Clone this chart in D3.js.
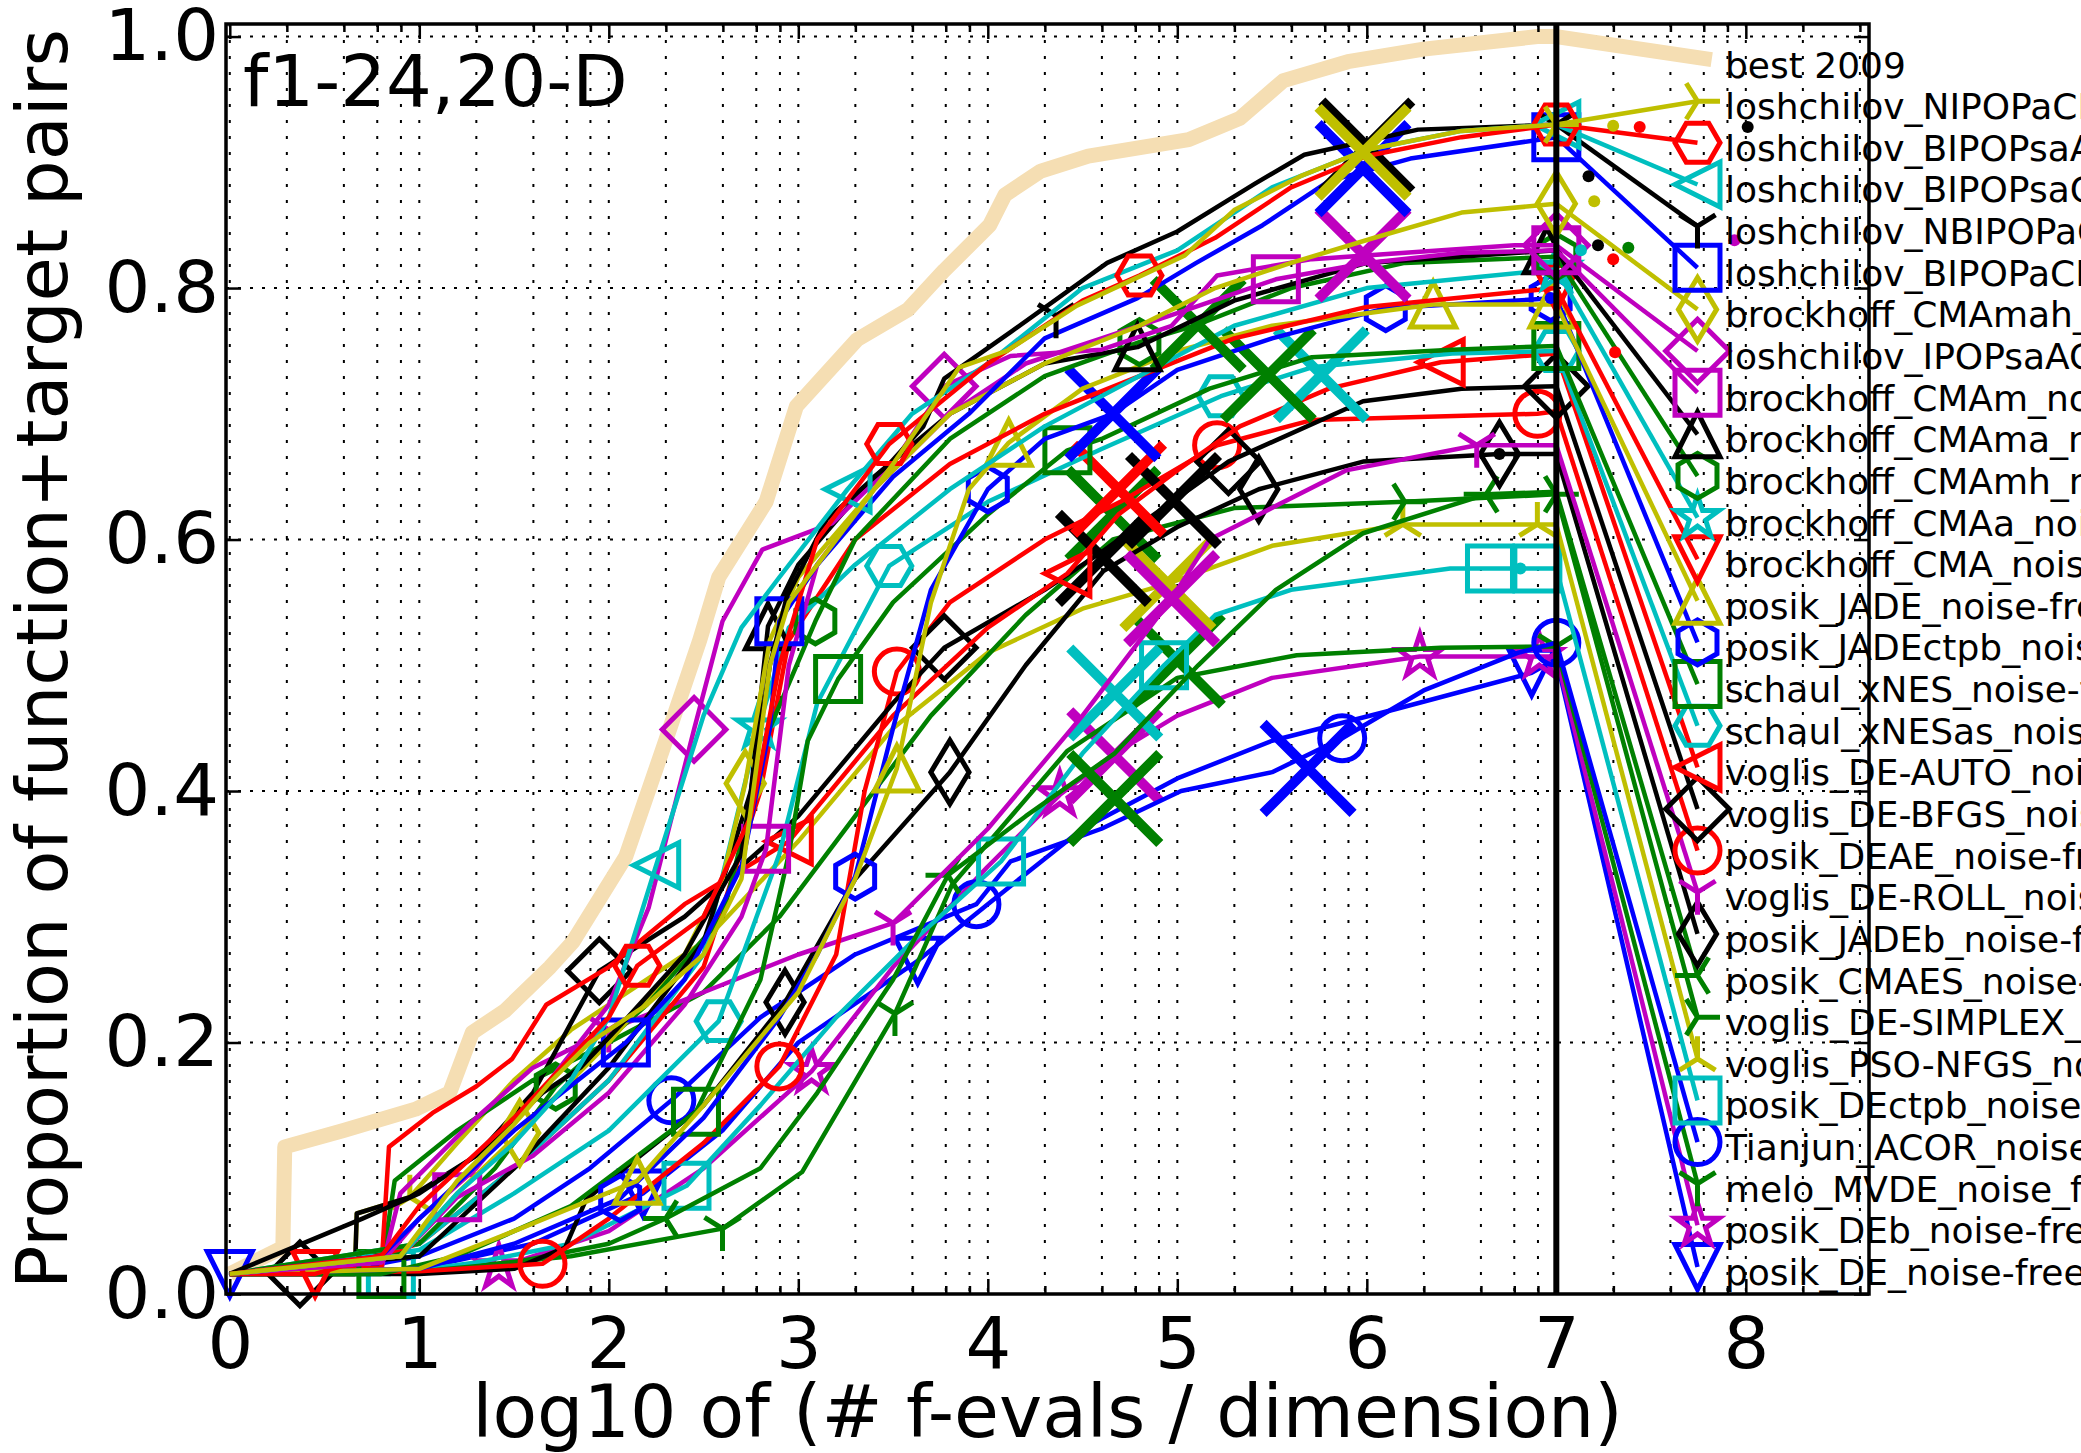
<!DOCTYPE html>
<html>
<head>
<meta charset="utf-8">
<script src="https://cdn.jsdelivr.net/npm/d3@7"></script>
<style>
  body { margin: 0; background: #fff; overflow: hidden; }
  svg { display: block; font-family: "DejaVu Sans", sans-serif; }
</style>
</head>
<body>
<div id="wrapper"></div>
<script>
// ---- data (x = log10 evals/dim, y = proportion) ----
const algNames = [
  "best 2009",
  "loshchilov_NIPOPaCMA_noise-free",
  "loshchilov_BIPOPsaACM_noise-free",
  "loshchilov_BIPOPsaCMA_noise-free",
  "loshchilov_NBIPOPaCMA_noise-free",
  "loshchilov_BIPOPaCMA_noise-free",
  "brockhoff_CMAmah_noise-free",
  "loshchilov_IPOPsaACM_noise-free",
  "brockhoff_CMAm_noise-free",
  "brockhoff_CMAma_noise-free",
  "brockhoff_CMAmh_noise-free",
  "brockhoff_CMAa_noise-free",
  "brockhoff_CMA_noise-free",
  "posik_JADE_noise-free",
  "posik_JADEctpb_noise-free",
  "schaul_xNES_noise-free",
  "schaul_xNESas_noise-free",
  "voglis_DE-AUTO_noise-free",
  "voglis_DE-BFGS_noise-free",
  "posik_DEAE_noise-free",
  "voglis_DE-ROLL_noise-free",
  "posik_JADEb_noise-free",
  "posik_CMAES_noise-free",
  "voglis_DE-SIMPLEX_noise-free",
  "voglis_PSO-NFGS_noise-free",
  "posik_DEctpb_noise-free",
  "Tianjun_ACOR_noise-free",
  "melo_MVDE_noise_free",
  "posik_DEb_noise-free",
  "posik_DE_noise-free"
];

const algColors = ["w", "y", "r", "c", "k", "b", "y", "m", "m", "k", "g", "c", "r", "y", "b",
  "g", "c", "r", "k", "r", "m", "k", "g", "g", "y", "c", "b", "g", "m", "b"];

const algMarkers = [null, "triRight", "hexagonH", "triangleLeft", "triDown", "square", "thinDiamond",
  "diamond", "square", "triangleUp", "hexagon", "star", "triangleDown", "triangleUp", "hexagon",
  "square", "hexagonH", "triangleLeft", "diamond", "circle", "triDown", "thinDiamond", "triLeft",
  "triRight", "triUp", "square", "circle", "triDown", "star", "triangleDown"];

const xTicks = [0, 1, 2, 3, 4, 5, 6, 7, 8];
const yTicks = [0, 0.2, 0.4, 0.6, 0.8, 1.0];
const budgetLine = 7;

const best2009 = [[0,0.016],[0.28,0.037],[0.29,0.117],[0.6,0.13],[0.98,0.147],[1.16,0.16],[1.28,0.208],
  [1.45,0.225],[1.69,0.26],[1.81,0.28],[2.09,0.348],[2.3,0.44],[2.48,0.52],[2.58,0.57],[2.83,0.63],
  [2.99,0.706],[3.31,0.759],[3.58,0.783],[3.77,0.814],[4.01,0.85],[4.09,0.874],[4.28,0.893],[4.53,0.905],
  [5.06,0.918],[5.33,0.935],[5.56,0.965],[5.9,0.98],[6.3,0.99],[6.9,1.0],[7,1.0]];
const nipopac = [[0,0.016],[0.9,0.03],[1.2,0.09],[1.5,0.135],[1.7,0.17],[1.9,0.2],[2.2,0.23],[2.5,0.27],
  [2.7,0.33],[2.78,0.42],[2.85,0.5],[2.95,0.55],[3.2,0.6],[3.5,0.66],[3.85,0.737],[4.1,0.75],[4.47,0.786],
  [5.04,0.826],[5.3,0.862],[5.65,0.889],[6.0,0.91],[6.5,0.925],[7,0.93]];
const bipopsaa = [[0,0.016],[0.8,0.03],[1.0,0.07],[1.5,0.14],[2.0,0.22],[2.15,0.261],[2.5,0.3],[2.75,0.38],
  [2.9,0.5],[3.1,0.6],[3.48,0.676],[4.0,0.74],[4.5,0.79],[4.8,0.81],[5.2,0.84],[5.6,0.88],[6.0,0.905],
  [6.5,0.92],[7,0.93]];
const bipopsac = [[0,0.016],[0.9,0.03],[1.2,0.08],[1.5,0.12],[1.8,0.17],[2.0,0.22],[2.25,0.341],[2.5,0.46],
  [2.7,0.53],[2.9,0.57],[3.26,0.64],[3.6,0.7],[4.0,0.74],[4.5,0.8],[5.0,0.83],[5.5,0.88],[6.0,0.91],
  [6.5,0.925],[7,0.93]];
const nbipopa = [[0,0.016],[0.7,0.06],[1.0,0.08],[1.3,0.11],[1.65,0.16],[1.85,0.18],[2.1,0.22],[2.4,0.27],
  [2.7,0.35],[2.85,0.5],[2.94,0.555],[3.15,0.616],[3.48,0.66],[3.66,0.69],[3.77,0.728],[4.12,0.765],
  [4.63,0.82],[5.0,0.845],[5.41,0.883],[5.67,0.906],[6.27,0.926],[7,0.93]];
const bipopac = [[0,0.016],[0.8,0.03],[1.0,0.06],[1.5,0.13],[2.09,0.2],[2.4,0.25],[2.7,0.34],[2.85,0.45],
  [2.9,0.535],[3.1,0.58],[3.5,0.65],[3.9,0.7],[4.3,0.76],[4.79,0.792],[5.1,0.82],[5.45,0.85],[5.8,0.885],
  [6.23,0.903],[7,0.92]];
const cmamah = [[0,0.016],[0.9,0.03],[1.2,0.08],[1.53,0.128],[2.0,0.2],[2.4,0.27],[2.6,0.33],[2.72,0.406],
  [2.85,0.52],[3.0,0.57],[3.4,0.64],[3.8,0.7],[4.3,0.74],[4.8,0.77],[5.2,0.8],[5.6,0.82],[6.04,0.84],
  [6.5,0.86],[7,0.867]];
const ipopsaac = [[0,0.016],[0.8,0.025],[1.0,0.06],[1.3,0.1],[1.69,0.17],[2.0,0.23],[2.21,0.307],[2.45,0.449],
  [2.6,0.535],[2.81,0.592],[3.18,0.613],[3.5,0.66],[3.77,0.722],[4.12,0.746],[4.6,0.751],[4.97,0.77],
  [5.21,0.81],[5.71,0.823],[6.78,0.834],[7,0.834]];
const cmam = [[0,0.016],[0.9,0.03],[1.2,0.077],[1.6,0.11],[2.0,0.16],[2.4,0.23],[2.7,0.3],[2.83,0.354],
  [2.95,0.5],[3.1,0.58],[3.4,0.64],[3.8,0.7],[4.2,0.74],[4.6,0.76],[5.0,0.78],[5.52,0.807],[6.0,0.82],
  [6.5,0.828],[7,0.83]];
const cmama = [[0,0.016],[1.0,0.03],[1.5,0.1],[2.0,0.18],[2.5,0.28],[2.75,0.4],[2.84,0.531],[3.0,0.58],
  [3.4,0.65],[3.8,0.7],[4.3,0.74],[4.79,0.753],[5.3,0.79],[6.0,0.82],[7,0.83]];
const cmamh = [[0,0.016],[1.0,0.04],[1.4,0.1],[1.72,0.165],[2.2,0.23],[2.6,0.3],[2.85,0.45],[3.09,0.535],
  [3.3,0.6],[3.8,0.68],[4.3,0.73],[4.8,0.757],[5.11,0.771],[5.6,0.8],[6.2,0.82],[7,0.825]];
const cmaa = [[0,0.016],[1.0,0.04],[1.5,0.1],[2.0,0.17],[2.5,0.27],[2.79,0.451],[2.95,0.53],[3.3,0.58],
  [3.8,0.64],[4.3,0.69],[4.8,0.73],[5.3,0.77],[6.0,0.8],[7,0.815]];
const cma = [[0,0.016],[0.45,0.016],[1.0,0.04],[1.5,0.1],[2.0,0.17],[2.5,0.26],[2.8,0.4],[2.95,0.52],
  [3.3,0.6],[3.8,0.66],[4.3,0.7],[4.8,0.73],[5.3,0.76],[6.0,0.785],[7,0.8]];
const jade = [[0,0.016],[1.0,0.02],[1.5,0.05],[2.15,0.09],[2.5,0.15],[3.0,0.24],[3.3,0.33],[3.52,0.418],
  [3.7,0.55],[3.9,0.64],[4.11,0.677],[4.5,0.72],[5.0,0.75],[5.5,0.77],[6.35,0.787],[7,0.787]];
const jadectpb = [[0,0.016],[1.0,0.02],[1.5,0.04],[2.06,0.076],[2.5,0.14],[2.9,0.22],[3.1,0.27],[3.3,0.332],
  [3.5,0.45],[3.7,0.56],[4.0,0.64],[4.3,0.68],[4.66,0.7],[5.0,0.735],[5.5,0.76],[6.1,0.784],[7,0.792]];
const xnes = [[0,0.016],[0.8,0.016],[1.2,0.03],[1.8,0.07],[2.46,0.145],[2.8,0.25],[2.95,0.35],[3.05,0.44],
  [3.21,0.489],[3.5,0.55],[4.0,0.62],[4.42,0.671],[4.6,0.68],[5.17,0.72],[5.71,0.745],[6.45,0.751],[7,0.754]];
const xnesas = [[0,0.016],[1.0,0.035],[1.5,0.08],[2.0,0.13],[2.58,0.217],[2.9,0.35],[3.1,0.47],[3.48,0.579],
  [4.0,0.63],[4.6,0.672],[5.23,0.714],[5.71,0.737],[6.45,0.748],[7,0.75]];
const deAuto = [[0,0.016],[0.8,0.021],[0.84,0.117],[1.07,0.144],[1.3,0.165],[1.49,0.187],[1.67,0.23],
  [2.0,0.26],[2.4,0.31],[2.95,0.36],[3.5,0.46],[4.0,0.53],[4.42,0.573],[4.69,0.62],[5.0,0.655],[5.33,0.69],
  [5.8,0.72],[6.39,0.741],[7,0.748]];
const deBfgs = [[0,0.016],[0.66,0.016],[0.67,0.064],[0.95,0.077],[1.3,0.11],[1.6,0.16],[1.95,0.257],
  [2.4,0.3],[3.0,0.38],[3.5,0.47],[3.77,0.514],[4.3,0.56],[4.6,0.59],[4.98,0.631],[5.27,0.662],[5.98,0.71],
  [6.5,0.72],[7,0.722]];
const deae = [[0,0.016],[1.0,0.018],[1.65,0.024],[2.0,0.06],[2.5,0.12],[2.9,0.181],[3.2,0.27],[3.35,0.4],
  [3.52,0.495],[3.8,0.55],[4.3,0.6],[4.7,0.63],[5.21,0.675],[5.71,0.695],[6.9,0.7],[7,0.702]];
const deRoll = [[0,0.016],[0.8,0.02],[0.9,0.08],[1.3,0.14],[1.6,0.18],[2.0,0.21],[2.5,0.24],[3.0,0.27],
  [3.5,0.295],[4.0,0.37],[4.5,0.46],[4.97,0.553],[5.17,0.6],[5.89,0.655],[6.58,0.675],[7,0.675]];
const jadeb = [[0,0.016],[1.0,0.016],[1.5,0.02],[1.77,0.037],[1.88,0.075],[2.0,0.09],[2.5,0.15],[2.93,0.232],
  [3.3,0.33],[3.8,0.415],[4.2,0.5],[4.61,0.575],[5.0,0.61],[5.43,0.64],[5.98,0.662],[6.7,0.668],[7,0.668]];
const cmaes = [[0,0.016],[1.0,0.018],[1.5,0.025],[2.0,0.04],[2.3,0.06],[2.8,0.1],[3.1,0.16],[3.5,0.25],
  [3.79,0.333],[4.2,0.38],[4.67,0.43],[5.11,0.5],[5.52,0.56],[5.98,0.605],[6.63,0.636],[7,0.638]];
const deSimplex = [[0,0.016],[0.8,0.02],[0.87,0.09],[1.2,0.13],[1.6,0.17],[2.0,0.2],[2.5,0.24],[2.9,0.3],
  [3.3,0.38],[3.7,0.46],[4.2,0.54],[4.66,0.6],[5.3,0.625],[6.2,0.63],[7,0.636]];
const psoNfgs = [[0,0.016],[0.66,0.016],[0.67,0.064],[0.95,0.077],[1.2,0.12],[1.5,0.17],[1.8,0.21],[2.1,0.24],
  [2.5,0.28],[3.0,0.36],[3.5,0.45],[4.0,0.51],[4.5,0.545],[4.95,0.565],[5.5,0.595],[6.19,0.612],[7,0.612]];
const dectpb = [[0,0.016],[0.85,0.016],[1.3,0.025],[1.8,0.04],[2.41,0.086],[2.8,0.15],[3.2,0.22],[3.6,0.28],
  [4.07,0.344],[4.5,0.43],[4.93,0.5],[5.2,0.54],[5.6,0.56],[6.44,0.577],[7,0.577]];
const acor = [[0,0.016],[0.5,0.016],[1.0,0.03],[1.5,0.06],[1.9,0.1],[2.33,0.154],[2.8,0.22],[3.3,0.27],
  [3.94,0.31],[4.12,0.344],[4.6,0.37],[5.02,0.4],[5.5,0.415],[5.87,0.442],[6.3,0.48],[6.8,0.51],[7,0.518]];
const mvde = [[0,0.016],[1.0,0.018],[1.8,0.03],[2.6,0.052],[3.02,0.097],[3.51,0.223],[3.81,0.325],
  [4.42,0.432],[5.0,0.49],[5.63,0.508],[6.39,0.514],[7,0.515]];
const deb = [[0,0.016],[1.0,0.018],[1.42,0.021],[2.0,0.05],[2.5,0.1],[3.07,0.177],[3.5,0.26],[4.0,0.34],
  [4.38,0.397],[4.67,0.43],[5.0,0.46],[5.5,0.49],[6.28,0.507],[7,0.507]];
const de = [[0,0.016],[1.0,0.02],[1.6,0.04],[2.18,0.08],[2.6,0.13],[3.0,0.2],[3.63,0.265],[4.0,0.31],
  [4.5,0.37],[5.0,0.41],[5.5,0.44],[6.15,0.465],[6.87,0.494],[7,0.505]];

// marker positions along each curve
const nipopacMarks = [[7,0.93]];
const bipopsaaMarks = [[2.15,0.261],[3.48,0.676],[4.8,0.81],[7,0.93]];
const bipopsacMarks = [[2.25,0.341],[3.26,0.64],[7,0.93]];
const nbipopaMarks = [[4.36,0.778],[7,0.93]];
const bipopacMarks = [[2.09,0.2],[2.9,0.535],[7,0.92]];
const cmamahMarks = [[1.53,0.128],[2.72,0.406],[7,0.867]];
const ipopsaacMarks = [[2.45,0.449],[3.77,0.722],[7,0.834]];
const cmamMarks = [[1.2,0.077],[2.83,0.354],[5.52,0.807],[7,0.83]];
const cmamaMarks = [[2.84,0.531],[4.79,0.753],[6.95,0.83]];
const cmamhMarks = [[1.72,0.165],[3.09,0.535],[4.8,0.757],[7,0.825]];
const cmaaMarks = [[2.79,0.451],[7,0.815]];
const cmaMarks = [[0.45,0.016],[7,0.8]];
const jadeMarks = [[2.15,0.09],[3.52,0.418],[4.11,0.677],[6.35,0.787],[6.98,0.787]];
const jadectpbMarks = [[2.06,0.076],[3.3,0.332],[4.0,0.64],[6.1,0.784],[6.97,0.792]];
const xnesMarks = [[0.8,0.016],[2.46,0.145],[3.21,0.489],[4.42,0.671],[7,0.754]];
const xnesasMarks = [[2.58,0.217],[3.48,0.579],[5.23,0.714],[7,0.75]];
const deAutoMarks = [[2.95,0.36],[4.42,0.573],[6.39,0.741]];
const deBfgsMarks = [[0.37,0.016],[1.95,0.257],[3.77,0.514],[5.27,0.662],[7,0.722]];
const deaeMarks = [[1.65,0.024],[2.9,0.181],[3.52,0.495],[5.21,0.675],[6.9,0.7]];
const deRollMarks = [[2.0,0.21],[3.5,0.295],[6.58,0.675]];
const jadebMarks = [[2.93,0.232],[3.8,0.415],[5.43,0.64],[6.7,0.668]];
const cmaesMarks = [[2.3,0.06],[3.79,0.333],[6.63,0.636]];
const deSimplexMarks = [[6.2,0.63],[7,0.636]];
const psoNfgsMarks = [[0.95,0.077],[6.19,0.612],[6.9,0.612]];
const dectpbMarks = [[0.85,0.016],[2.41,0.086],[4.07,0.344],[4.93,0.5],[6.65,0.577],[6.9,0.577]];
const acorMarks = [[2.33,0.154],[3.94,0.31],[5.87,0.442],[7,0.518]];
const mvdeMarks = [[2.6,0.052],[3.51,0.223],[7,0.515]];
const debMarks = [[1.42,0.021],[3.07,0.177],[4.38,0.397],[6.28,0.507],[6.91,0.507]];
const deMarks = [[0,0.016],[2.18,0.08],[3.63,0.265],[6.87,0.494]];

// big "x" marks (median budget) per algorithm, null where not visible
const medianCross = [null, [5.98,0.908], null, null, [6.0,0.913], [5.98,0.895], null, [5.98,0.827], null,
  null, [5.11,0.771], null, null, null, [4.66,0.7], [5.48,0.731], [5.76,0.731], [4.69,0.64], [4.98,0.631],
  null, [4.97,0.553], [4.61,0.585], [4.67,0.394], [4.66,0.62], [4.95,0.565], [4.67,0.478], [5.69,0.418],
  [5.0,0.504], [4.67,0.428], null];

// small dots after the budget line: [x, y, algorithm index]
const tailDots = [[7.3,0.929,1],[7.44,0.928,2],[8.01,0.928,4],[7.17,0.889,4],[7.2,0.869,6],[7.94,0.838,7],
  [7.22,0.834,9],[7.38,0.832,10],[7.3,0.823,12],[7.13,0.83,11],[7.31,0.749,17],[6.97,0.792,14],
  [6.81,0.577,25],[6.7,0.668,21]];

const algCurves = [best2009, nipopac, bipopsaa, bipopsac, nbipopa, bipopac, cmamah, ipopsaac, cmam, cmama,
  cmamh, cmaa, cma, jade, jadectpb, xnes, xnesas, deAuto, deBfgs, deae, deRoll, jadeb, cmaes, deSimplex,
  psoNfgs, dectpb, acor, mvde, deb, de];
const algMarks = [[], nipopacMarks, bipopsaaMarks, bipopsacMarks, nbipopaMarks, bipopacMarks, cmamahMarks,
  ipopsaacMarks, cmamMarks, cmamaMarks, cmamhMarks, cmaaMarks, cmaMarks, jadeMarks, jadectpbMarks, xnesMarks,
  xnesasMarks, deAutoMarks, deBfgsMarks, deaeMarks, deRollMarks, jadebMarks, cmaesMarks, deSimplexMarks,
  psoNfgsMarks, dectpbMarks, acorMarks, mvdeMarks, debMarks, deMarks];

function drawChart() {
  //* Step 1. Access data
  const colorCodes = {
    b: "#0000ff", g: "#008000", r: "#ff0000", c: "#00bfbf",
    m: "#bf00bf", y: "#bfbf00", k: "#000000", w: "#f5deb3",
  };
  const colorOf = (i) => colorCodes[algColors[i]];

  //* Step 2. Create chart dimensions
  let dimensions = {
    width: 2081,
    height: 1453,
    margin: { top: 24, right: 212, bottom: 159, left: 226 },
    legendTop: 0.9817,
    legendStep: 0.03311,
    legendMarkerX: 7.745,
    legendTextX: 7.89,
    markerSize: 45,
    crossSize: 90,
    lineWidth: 4.5,
  };
  dimensions.boundedWidth =
    dimensions.width - dimensions.margin.left - dimensions.margin.right;
  dimensions.boundedHeight =
    dimensions.height - dimensions.margin.top - dimensions.margin.bottom;
  const legendY = (i) => dimensions.legendTop - i * dimensions.legendStep;

  //* Step 3. Draw canvas
  const wrapper = d3
    .select("#wrapper")
    .append("svg")
    .attr("width", dimensions.width)
    .attr("height", dimensions.height);

  wrapper.append("rect")
    .attr("width", dimensions.width)
    .attr("height", dimensions.height)
    .attr("fill", "#fff");

  const bounds = wrapper
    .append("g")
    .attr("transform", `translate(${dimensions.margin.left},${dimensions.margin.top})`);

  //* Step 4. Create scales
  const xScale = d3.scaleLinear()
    .domain([-0.02, 8.65])
    .range([0, dimensions.boundedWidth]);

  const yScale = d3.scaleLinear()
    .domain([0, 1.01])
    .range([dimensions.boundedHeight, 0]);

  const minorTicks = [];
  xTicks.forEach((k) => {
    [2, 4, 6, 8].forEach((m) => {
      const v = k + Math.log10(m);
      if (v < xScale.domain()[1]) minorTicks.push(v);
    });
  });

  // grid
  const grid = bounds.append("g");
  grid.selectAll(".vgrid")
    .data(xTicks.concat(minorTicks))
    .join("line")
    .attr("x1", (d) => xScale(d))
    .attr("x2", (d) => xScale(d))
    .attr("y1", 0)
    .attr("y2", dimensions.boundedHeight)
    .attr("stroke", "#000")
    .attr("stroke-width", 2)
    .attr("stroke-dasharray", "3,13");
  grid.selectAll(".hgrid")
    .data(yTicks.filter((d) => d > 0))
    .join("line")
    .attr("x1", 0)
    .attr("x2", dimensions.boundedWidth)
    .attr("y1", (d) => yScale(d))
    .attr("y2", (d) => yScale(d))
    .attr("stroke", "#000")
    .attr("stroke-width", 2)
    .attr("stroke-dasharray", "3,9");

  //* Step 5. Draw data
  const lineGenerator = d3.line()
    .x((d) => xScale(d[0]))
    .y((d) => yScale(d[1]));

  const poly = (pts) => "M" + pts.map((p) => p.join(",")).join("L") + "Z";
  const spokes = (pts) => pts.map((p) => `M0,0L${p[0]},${p[1]}`).join("");
  const regular = (n, r, start) =>
    d3.range(n).map((k) => {
      const a = start + (k * 2 * Math.PI) / n;
      return [r * Math.cos(a), -r * Math.sin(a)];
    });

  function markerPath(type, s) {
    const h = s / 2;
    switch (type) {
      case "circle":
        return `M${h},0A${h},${h} 0 1,1 ${-h},0A${h},${h} 0 1,1 ${h},0Z`;
      case "square":
        return poly([[-h, -h], [h, -h], [h, h], [-h, h]]);
      case "diamond": {
        const a = s * 0.7071;
        return poly([[0, -a], [a, 0], [0, a], [-a, 0]]);
      }
      case "thinDiamond": {
        const a = s * 0.7071;
        return poly([[0, -a], [a * 0.6, 0], [0, a], [-a * 0.6, 0]]);
      }
      case "triangleUp":
        return poly([[0, -h], [h, h], [-h, h]]);
      case "triangleDown":
        return poly([[0, h], [h, -h], [-h, -h]]);
      case "triangleLeft":
        return poly([[-h, 0], [h, -h], [h, h]]);
      case "hexagon":
        return poly(regular(6, h, Math.PI / 2));
      case "hexagonH":
        return poly(regular(6, h, 0));
      case "star": {
        const outer = regular(5, h, Math.PI / 2);
        const inner = regular(5, h * 0.382, Math.PI / 2 + Math.PI / 5);
        return poly(outer.flatMap((p, k) => [p, inner[k]]));
      }
      case "triDown":
        return spokes([[0, h], [0.8 * h, -0.5 * h], [-0.8 * h, -0.5 * h]]);
      case "triUp":
        return spokes([[0, -h], [0.8 * h, 0.5 * h], [-0.8 * h, 0.5 * h]]);
      case "triLeft":
        return spokes([[-h, 0], [0.5 * h, -0.8 * h], [0.5 * h, 0.8 * h]]);
      case "triRight":
        return spokes([[h, 0], [-0.5 * h, -0.8 * h], [-0.5 * h, 0.8 * h]]);
      case "cross":
        return `M${-h},${-h}L${h},${h}M${-h},${h}L${h},${-h}`;
      default:
        return "";
    }
  }

  // best 2009 underneath everything
  bounds.append("path")
    .datum(best2009.concat([[7.82, legendY(0)]]))
    .attr("d", lineGenerator)
    .attr("fill", "none")
    .attr("stroke", colorOf(0))
    .attr("stroke-width", 15)
    .attr("stroke-linejoin", "round");

  const drawOrder = d3.range(algNames.length - 1, 0, -1);
  drawOrder.forEach((i) => {
    const g = bounds.append("g").attr("class", "algorithm");
    const curve = algCurves[i];
    const last = curve[curve.length - 1];
    const color = colorOf(i);

    g.append("path")
      .datum(curve)
      .attr("d", lineGenerator)
      .attr("fill", "none")
      .attr("stroke", color)
      .attr("stroke-width", dimensions.lineWidth)
      .attr("stroke-linejoin", "round");

    g.append("path")
      .datum([last, [dimensions.legendMarkerX, legendY(i)]])
      .attr("d", lineGenerator)
      .attr("fill", "none")
      .attr("stroke", color)
      .attr("stroke-width", dimensions.lineWidth);

    g.selectAll(".mark")
      .data(algMarks[i].concat([[dimensions.legendMarkerX, legendY(i)]]))
      .join("path")
      .attr("class", "mark")
      .attr("d", markerPath(algMarkers[i], dimensions.markerSize))
      .attr("transform", (d) => `translate(${xScale(d[0])},${yScale(d[1])})`)
      .attr("fill", "none")
      .attr("stroke", color)
      .attr("stroke-width", 5);

    if (medianCross[i]) {
      g.append("path")
        .attr("d", markerPath("cross", dimensions.crossSize))
        .attr("transform", `translate(${xScale(medianCross[i][0])},${yScale(medianCross[i][1])})`)
        .attr("fill", "none")
        .attr("stroke", color)
        .attr("stroke-width", 10);
    }
  });

  bounds.append("g")
    .selectAll("circle")
    .data(tailDots)
    .join("circle")
    .attr("cx", (d) => xScale(d[0]))
    .attr("cy", (d) => yScale(d[1]))
    .attr("r", 6)
    .attr("fill", (d) => colorOf(d[2]));

  // budget line at x = 7
  bounds.append("line")
    .attr("x1", xScale(budgetLine))
    .attr("x2", xScale(budgetLine))
    .attr("y1", 0)
    .attr("y2", dimensions.boundedHeight)
    .attr("stroke", "#000")
    .attr("stroke-width", 6);

  // legend texts (the figure is cropped on the right, as in the original)
  bounds.append("g")
    .selectAll("text")
    .data(algNames)
    .join("text")
    .attr("x", xScale(dimensions.legendTextX))
    .attr("y", (d, i) => yScale(legendY(i)) + 18)
    .attr("font-size", 36)
    .attr("fill", "#000")
    .text((d) => d);

  //* Step 6. Draw peripherals
  const styleAxis = (g) => {
    g.select(".domain").remove();
    g.selectAll(".tick line").attr("stroke", "#000").attr("stroke-width", 2.5);
    g.selectAll(".tick text")
      .attr("fill", "#000")
      .attr("font-size", 72)
      .attr("font-family", "DejaVu Sans, sans-serif");
  };
  const ticksOnly = (g) => {
    styleAxis(g);
    g.selectAll(".tick text").remove();
  };

  bounds.append("g")
    .attr("transform", `translate(0,${dimensions.boundedHeight})`)
    .call(d3.axisBottom(xScale).tickValues(xTicks).tickSize(-15).tickPadding(23).tickFormat(d3.format("d")))
    .call(styleAxis);
  bounds.append("g")
    .attr("transform", `translate(0,${dimensions.boundedHeight})`)
    .call(d3.axisBottom(xScale).tickValues(minorTicks).tickSize(-8))
    .call(ticksOnly);
  bounds.append("g")
    .call(d3.axisTop(xScale).tickValues(xTicks).tickSize(-15))
    .call(ticksOnly);
  bounds.append("g")
    .call(d3.axisTop(xScale).tickValues(minorTicks).tickSize(-8))
    .call(ticksOnly);
  bounds.append("g")
    .call(d3.axisLeft(yScale).tickValues(yTicks).tickSize(-15).tickPadding(7).tickFormat(d3.format(".1f")))
    .call(styleAxis);
  bounds.append("g")
    .attr("transform", `translate(${dimensions.boundedWidth},0)`)
    .call(d3.axisRight(yScale).tickValues(yTicks).tickSize(-15))
    .call(ticksOnly);

  bounds.append("rect")
    .attr("width", dimensions.boundedWidth)
    .attr("height", dimensions.boundedHeight)
    .attr("fill", "none")
    .attr("stroke", "#000")
    .attr("stroke-width", 3.5);

  bounds.append("text")
    .attr("x", 17)
    .attr("y", 82)
    .attr("font-size", 72)
    .attr("fill", "#000")
    .text("f1-24,20-D");

  bounds.append("text")
    .attr("x", dimensions.boundedWidth / 2)
    .attr("y", dimensions.boundedHeight + 143)
    .attr("text-anchor", "middle")
    .attr("font-size", 73)
    .attr("fill", "#000")
    .text("log10 of (# f-evals / dimension)");

  bounds.append("text")
    .attr("transform", `translate(${67 - dimensions.margin.left},${dimensions.boundedHeight / 2}) rotate(-90)`)
    .attr("text-anchor", "middle")
    .attr("font-size", 72)
    .attr("fill", "#000")
    .text("Proportion of function+target pairs");
}
drawChart();
</script>
</body>
</html>
